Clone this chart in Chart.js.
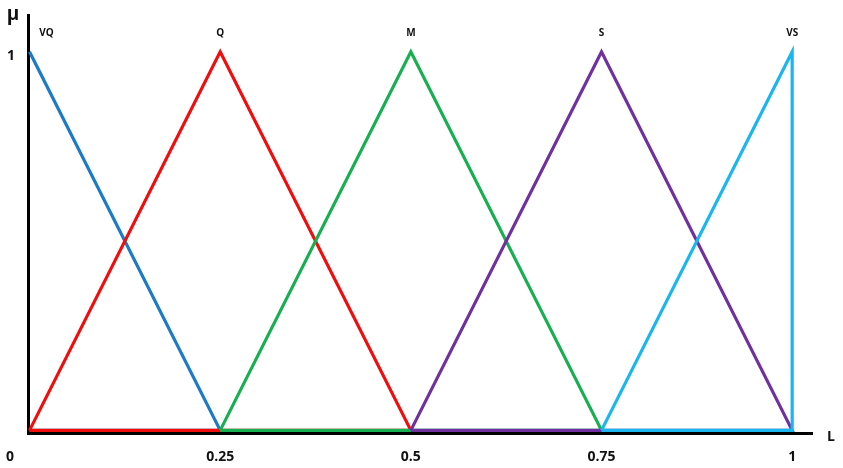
<!DOCTYPE html>
<html>
<head>
<meta charset="utf-8">
<script src="https://cdn.jsdelivr.net/npm/chart.js@4/dist/chart.umd.min.js"></script>
<style>
html,body{margin:0;padding:0;background:#fff;}
#wrap{width:843px;height:468px;position:relative;}
</style>
</head>
<body>
<div id="wrap"><canvas id="c" width="843" height="468"></canvas></div>
<script>
// Membership function names and their peak positions
const setNames = ['VQ', 'Q', 'M', 'S', 'VS'];
const peaks = [0, 0.25, 0.5, 0.75, 1];
const colors = ['#1b7bc6', '#f20d0d', '#17b050', '#7030a0', '#1ab6ef'];

// Triangle outlines (x, μ) for each fuzzy set
const vqX = [0, 0.25, 0];
const vqY = [1, 0, 0];
const qX = [0, 0.25, 0.5, 0];
const qY = [0, 1, 0, 0];
const mX = [0.25, 0.5, 0.75, 0.25];
const mY = [0, 1, 0, 0];
const sX = [0.5, 0.75, 1, 0.5];
const sY = [0, 1, 0, 0];
const vsX = [0.75, 1, 1, 0.75];
const vsY = [0, 1, 0, 0];

// Tick labels
const xTicks = [0, 0.25, 0.5, 0.75, 1];
const xTickLabels = ['0', '0.25', '0.5', '0.75', '1'];
const yTicks = [1];
const yTickLabels = ['1'];
const xTitle = 'L';
const yTitle = 'μ';

const seriesX = [vqX, qX, mX, sX, vsX];
const seriesY = [vqY, qY, mY, sY, vsY];

const datasets = setNames.map((n, i) => ({
  label: n,
  data: seriesX[i].map((x, j) => ({x: x, y: seriesY[i][j]})),
  borderColor: colors[i],
  backgroundColor: colors[i],
  borderWidth: 3.2,
  pointRadius: 0,
  showLine: true,
  fill: false,
  tension: 0,
  clip: false,
  order: setNames.length - i
}));

const textPlugin = {
  id: 'texts',
  afterDraw(chart) {
    const ctx = chart.ctx;
    const xs = chart.scales.x, ys = chart.scales.y;
    ctx.save();
    ctx.fillStyle = '#111';
    ctx.textBaseline = 'middle';
    // x tick labels
    ctx.font = 'bold 14px "Open Sans"';
    ctx.textAlign = 'center';
    xTicks.forEach((v, i) => {
      let px = xs.getPixelForValue(v);
      if (i === 0) px = 10;
      ctx.fillText(xTickLabels[i], px, 457);
    });
    // y tick labels
    yTicks.forEach((v, i) => {
      ctx.fillText(yTickLabels[i], 11, ys.getPixelForValue(v) + 4);
    });
    // axis titles
    ctx.fillText(xTitle, 831, 437);
    ctx.font = 'bold 19px "Open Sans"';
    ctx.fillText(yTitle, 13, 15);
    // set names above peaks
    ctx.font = 'bold 10px "Open Sans"';
    setNames.forEach((n, i) => {
      let px = xs.getPixelForValue(peaks[i]);
      if (i === 0) px += 17;
      ctx.fillText(n, px, 33);
    });
    ctx.restore();
  }
};

new Chart(document.getElementById('c'), {
  type: 'scatter',
  data: {datasets: datasets},
  options: {
    responsive: false,
    animation: false,
    events: [],
    layout: {padding: {left: 28, right: 31, top: 15, bottom: 35}},
    plugins: {legend: {display: false}, tooltip: {enabled: false}},
    scales: {
      x: {
        type: 'linear', min: -0.002, max: 1.026,
        grid: {display: false},
        ticks: {display: false},
        border: {display: true, color: '#000', width: 3},
        afterFit(s) { s.height = 0; }
      },
      y: {
        type: 'linear', min: -0.007, max: 1.097,
        grid: {display: false},
        ticks: {display: false},
        border: {display: true, color: '#000', width: 3},
        afterFit(s) { s.width = 0; }
      }
    }
  },
  plugins: [textPlugin]
});
</script>
</body>
</html>
